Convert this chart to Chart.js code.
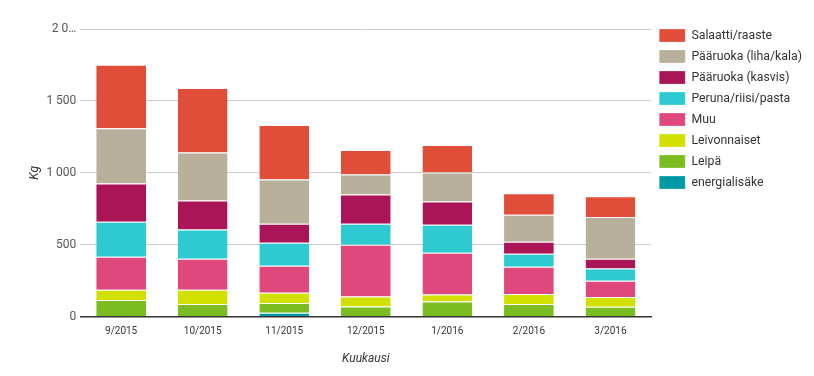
<!DOCTYPE html>
<html>
<head>
<meta charset="utf-8">
<script src="https://cdn.jsdelivr.net/npm/chart.js@4/dist/chart.umd.min.js"></script>
<style>
  html, body { margin: 0; padding: 0; background: #fff; }
  #wrap { width: 814px; height: 376px; }
</style>
</head>
<body>
<div id="wrap"><canvas id="grafico"></canvas></div>
<script>
const kuukaudet = ["9/2015", "10/2015", "11/2015", "12/2015", "1/2016", "2/2016", "3/2016"];

const energialisake = [0, 0, 26, 0, 0, 0, 0];
const leipa = [116, 88, 69, 70, 105, 88, 68];
const leivonnaiset = [70, 98, 70, 70, 48, 70, 69];
const muu = [230, 216, 188, 360, 291, 188, 112];
const peruna = [244, 203, 161, 146, 195, 91, 86];
const kasvis = [265, 202, 132, 203, 161, 84, 67];
const liha = [384, 335, 307, 139, 202, 188, 291];
const salaatti = [442, 448, 379, 170, 191, 149, 144];

const yTicks = [0, 500, 1000, 1500, 2000];

function sarja(label, data, color){
    return {
        label: label,
        data: data,
        backgroundColor: color,
        borderColor: "#ffffff",
        borderWidth: { top: 1, left: 0, right: 0, bottom: 0 },
        borderSkipped: false
    };
}

// pinoaminen alhaalta ylös, legenda käännetään
const datasets = [
    sarja("energialisäke", energialisake, "#009aa6"),
    sarja("Leipä", leipa, "#7bbd21"),
    sarja("Leivonnaiset", leivonnaiset, "#d2e000"),
    sarja("Muu", muu, "#e0487d"),
    sarja("Peruna/riisi/pasta", peruna, "#2dcbd1"),
    sarja("Pääruoka (kasvis)", kasvis, "#a91556"),
    sarja("Pääruoka (liha/kala)", liha, "#b8b09b"),
    sarja("Salaatti/raaste", salaatti, "#e04e39")
];

const fontti = "Roboto, 'Liberation Sans', sans-serif";

new Chart(document.getElementById("grafico"), {
    type: "bar",
    data: {
        labels: kuukaudet,
        datasets: datasets
    },
    options: {
        responsive: true,
        maintainAspectRatio: false,
        animation: false,
        layout: { padding: { top: 21, right: 2, left: 24, bottom: 6 } },
        datasets: { bar: { categoryPercentage: 0.61, barPercentage: 1 } },
        scales: {
            x: {
                stacked: true,
                grid: { display: false, drawTicks: false },
                border: { display: true, color: "#333", width: 1.5 },
                ticks: { color: "#333", font: { family: fontti, size: 10 }, padding: 9 },
                title: {
                    display: true, text: "Kuukausi", color: "#333",
                    font: { family: fontti, size: 12, style: "italic" },
                    padding: { top: 5 }
                }
            },
            y: {
                stacked: true,
                min: 0,
                max: 2000,
                afterBuildTicks: function(axis){
                    axis.ticks = yTicks.map(function(v){ return { value: v }; });
                },
                grid: { color: "#cccccc", drawTicks: false },
                border: { display: false },
                ticks: {
                    color: "#555",
                    padding: 4,
                    font: { family: fontti, size: 12 },
                    callback: function(v){
                        if (v === 2000) return "2 0…";
                        return String(v).replace(/\B(?=(\d{3})+(?!\d))/g, " ");
                    }
                },
                title: {
                    display: true, text: "Kg", color: "#333",
                    font: { family: fontti, size: 12, style: "italic" },
                    padding: { bottom: 0 }
                }
            }
        },
        plugins: {
            tooltip: { enabled: false },
            title: {
                display: true,
                text: "",
                fullSize: false,
                font: { size: 1 },
                padding: { top: 3.4, bottom: 3.4 }
            },
            legend: {
                position: "right",
                align: "start",
                reverse: true,
                labels: {
                    boxWidth: 26,
                    boxHeight: 13,
                    padding: 8,
                    color: "#333",
                    font: { family: fontti, size: 12.3 }
                }
            }
        }
    }
});
</script>
</body>
</html>
